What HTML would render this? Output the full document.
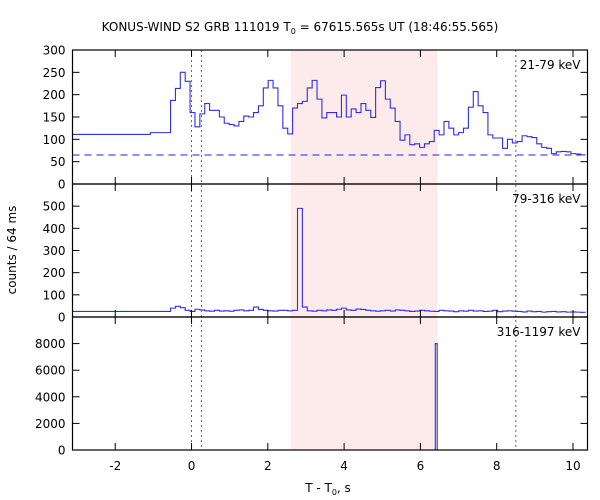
<!DOCTYPE html>
<html><head><meta charset="utf-8"><style>
body{margin:0;background:#fff;}
svg{display:block;font-family:"DejaVu Sans","Liberation Sans",sans-serif;}
</style></head><body>
<svg id="chart" width="600" height="500" viewBox="0 0 600 500">
<text x="300" y="31" font-size="12" text-anchor="middle">KONUS-WIND S2 GRB 111019 T<tspan font-size="8" dy="3">0</tspan><tspan dy="-3"> = 67615.565s UT (18:46:55.565)</tspan></text>
<text transform="translate(16,250) rotate(-90)" font-size="12" text-anchor="middle">counts / 64 ms</text>
<text x="328" y="492" font-size="12" text-anchor="middle">T - T<tspan font-size="8" dy="3">0</tspan><tspan dy="-3">, s</tspan></text>
<g id="g"></g>
</svg>
<script>
const xMin=-3.12, xMax=10.38;
const xTicks=[-2,0,2,4,6,8,10];
const binStart=-0.55, binWidth=0.128;
const preBurstTimes=[-3.12,-1.08,-0.55];
const preBurstValues=[111,115];
const band1Values=[187,214,250,230,160,128,157,180,165,165,150,136,133,130,140,152,150,160,175,215,232,215,175,125,112,170,180,185,215,232,190,148,160,160,150,199,150,168,160,180,165,149,216,231,190,170,140,98,110,88,90,82,90,95,120,110,140,125,110,115,125,172,207,175,160,110,103,103,80,100,92,95,108,106,104,90,82,80,68,72,73,72,68,67,65];
const band1Background=[65];
const band2Pre=[25];
const band2Values=[40,48,42,30,25,35,32,28,26,30,27,28,26,30,32,28,30,45,34,30,28,27,30,30,28,30,490,45,28,26,30,28,32,30,35,40,32,30,36,34,30,28,26,28,30,27,32,30,28,25,27,30,28,26,25,30,28,27,24,28,26,30,27,28,25,26,30,24,27,28,26,25,23,27,24,25,22,24,25,23,24,22,23,22,21];
const band3Times=[6.39,6.44];
const band3Values=[8000];
const panels=[
 {name:'band-21-79',top:50,bot:184,max:300,ticks:[0,50,100,150,200,250,300],label:'21-79 keV'},
 {name:'band-79-316',top:184,bot:317,max:600,ticks:[0,100,200,300,400,500],label:'79-316 keV'},
 {name:'band-316-1197',top:317,bot:450,max:10000,ticks:[0,2000,4000,6000,8000],label:'316-1197 keV'}];
const shadeRange=[2.6,6.45];
const dottedTimes=[0,0.26,8.5];
const L=72.5,R=587.5;
const NS='http://www.w3.org/2000/svg';
const g=document.getElementById('g');
function X(t){return L+(t-xMin)/(xMax-xMin)*(R-L);}
function mk(tag,attrs,parent){const e=document.createElementNS(NS,tag);for(const k in attrs)e.setAttribute(k,attrs[k]);(parent||g).appendChild(e);return e;}
function Yf(p){return v=>p.bot-v/p.max*(p.bot-p.top);}
let e=mk('rect',{x:X(shadeRange[0]),y:50,width:X(shadeRange[1])-X(shadeRange[0]),height:400,fill:'#fdeaea'});


dottedTimes.forEach(t=>{const d=mk('line',{x1:X(t),x2:X(t),y1:50,y2:450,stroke:'#666','stroke-dasharray':'2,3','stroke-width':1});

});
function stepPath(Y,pre,preT,vals){let d='M'+X(preT[0])+','+Y(pre[0]);
 for(let i=0;i<pre.length;i++){d+=' H'+X(preT[i+1]);if(i+1<pre.length)d+=' V'+Y(pre[i+1]);}
 vals.forEach((v,i)=>{const t0=binStart+i*binWidth;d+=' H'+X(t0)+' V'+Y(v)+' H'+X(Math.min(t0+binWidth,xMax));});
 return d;}
panels.forEach((p,pi)=>{
 const Y=Yf(p);
 let d;
 if(pi===0){d=stepPath(Y,preBurstValues,preBurstTimes,band1Values);
  const b=mk('line',{x1:L,x2:R,y1:Y(band1Background[0]),y2:Y(band1Background[0]),stroke:'#2222dd','stroke-dasharray':'7,5','stroke-width':1});
  
  }
 else if(pi===1){d=stepPath(Y,band2Pre,[xMin,binStart],band2Values);}
 else {d='M'+X(band3Times[0])+','+Y(0)+' V'+Y(band3Values[0])+' H'+X(band3Times[1])+' V'+Y(0);}
 const s=mk('path',{d:d,fill:'none',stroke:'#2f2fe6','stroke-width':1.1});
 
 
 const fr=mk('rect',{x:L,y:p.top,width:R-L,height:p.bot-p.top,fill:'none',stroke:'#000','stroke-width':1.2});
 
 
 p.ticks.forEach(v=>{const y=Y(v);
  mk('line',{x1:L,x2:L+7,y1:y,y2:y,stroke:'#000'});mk('line',{x1:R-7,x2:R,y1:y,y2:y,stroke:'#000'});
  const t=mk('text',{x:L-7,y:y+4.5,'font-size':12,'text-anchor':'end'});t.textContent=v;
  
  });
 xTicks.forEach(v=>{const x=X(v);mk('line',{x1:x,x2:x,y1:p.top,y2:p.top+7,stroke:'#000'});mk('line',{x1:x,x2:x,y1:p.bot-7,y2:p.bot,stroke:'#000'});});
 const lb=mk('text',{x:R-7,y:p.top+19,'font-size':12,'text-anchor':'end'});lb.textContent=p.label;
 
 
});
xTicks.forEach(v=>{const t=mk('text',{x:X(v),y:470,'font-size':12,'text-anchor':'middle'});t.textContent=v;
 
 });
</script>
</body></html>
